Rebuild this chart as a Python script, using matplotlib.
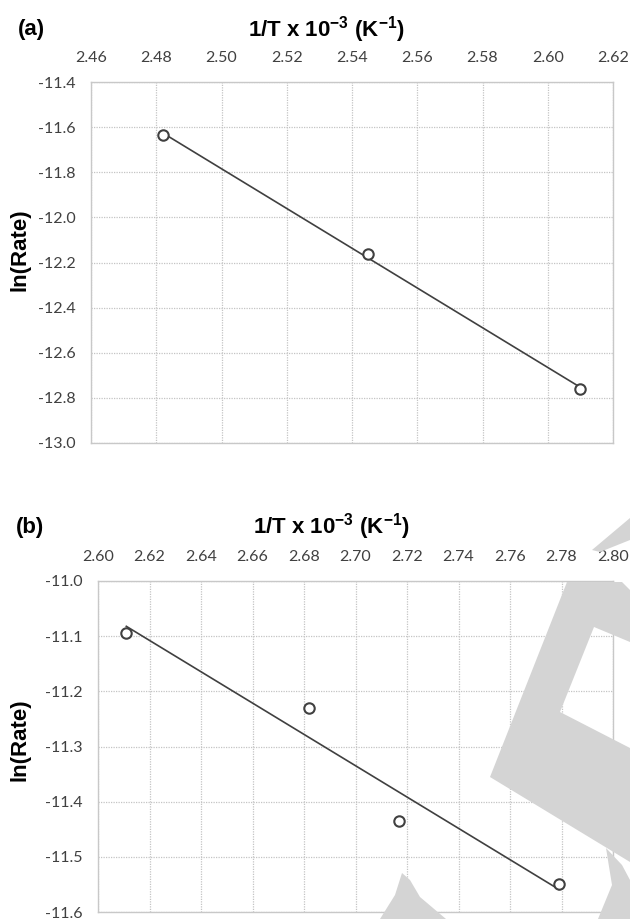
import numpy as np
import matplotlib
matplotlib.use("Agg")
import matplotlib.pyplot as plt
from matplotlib.ticker import FormatStrFormatter
from matplotlib.patches import Polygon

plt.rcParams['axes.unicode_minus'] = False
plt.rcParams['mathtext.fontset'] = 'custom'
plt.rcParams['mathtext.rm'] = 'Liberation Sans:bold'
plt.rcParams['mathtext.bf'] = 'Liberation Sans:bold'

# Panel (a) data
inv_T_a = [2.482, 2.545, 2.610]
ln_rate_a = [-11.635, -12.163, -12.762]
xticks_a = [2.46, 2.48, 2.50, 2.52, 2.54, 2.56, 2.58, 2.60, 2.62]
yticks_a = [-11.4, -11.6, -11.8, -12.0, -12.2, -12.4, -12.6, -12.8, -13.0]

# Panel (b) data
inv_T_b = [2.611, 2.682, 2.717, 2.779]
ln_rate_b = [-11.094, -11.230, -11.435, -11.549]
xticks_b = [2.60, 2.62, 2.64, 2.66, 2.68, 2.70, 2.72, 2.74, 2.76, 2.78, 2.80]
yticks_b = [-11.0, -11.1, -11.2, -11.3, -11.4, -11.5, -11.6]

xlabel = "1/T x 10$^{\\mathbf{-3}}$ (K$^{\\mathbf{-1}}$)"
ylabel = "ln(Rate)"

W, H = 630, 919
fig = plt.figure(figsize=(W / 100, H / 100), dpi=100)

tick_font = "Lato"
title_font = "Liberation Sans"
grid_col = "#c4c4c4"
dark = "#404040"


def px(x, y):
    return (x / W, 1 - y / H)


def make_panel(rect, xs, ys, xticks, yticks, panel_label, label_xy, title_xy, ylab_xy):
    ax = fig.add_axes(rect)
    ax.set_xlim(xticks[0], xticks[-1])
    ax.set_ylim(yticks[-1], yticks[0])
    ax.set_xticks(xticks)
    ax.set_yticks(yticks)
    ax.xaxis.set_major_formatter(FormatStrFormatter('%.2f'))
    ax.yaxis.set_major_formatter(FormatStrFormatter('%.1f'))
    ax.xaxis.tick_top()
    ax.tick_params(axis='x', length=0, pad=12, labelsize=11.5, labelcolor=dark)
    ax.tick_params(axis='y', length=0, pad=11, labelsize=11.5, labelcolor=dark)
    for lab in ax.get_xticklabels() + ax.get_yticklabels():
        lab.set_fontfamily(tick_font)
    ax.grid(True, color=grid_col, linestyle=(0, (1, 1)), linewidth=0.9)
    for s in ax.spines.values():
        s.set_color("#c8c8c8")
        s.set_linewidth(1.0)
    ax.set_axisbelow(True)
    # linear trendline
    coef = np.polyfit(xs, ys, 1)
    xl = np.array([min(xs), max(xs)])
    ax.plot(xl, np.polyval(coef, xl), color=dark, linewidth=1.2, zorder=3)
    ax.plot(xs, ys, linestyle='none', marker='o', markersize=7.5,
            markerfacecolor='white', markeredgecolor=dark, markeredgewidth=1.5, zorder=4)
    fig.text(*px(*title_xy), xlabel, ha='center', va='center',
             fontsize=16, fontweight='bold', family=title_font, color='black')
    fig.text(*px(*label_xy), panel_label, ha='left', va='center',
             fontsize=16, fontweight='bold', family=title_font, color='black')
    fig.text(*px(*ylab_xy), ylabel, ha='center', va='center', rotation=90,
             fontsize=16, fontweight='bold', family=title_font, color='black')
    return ax


make_panel([91 / W, 1 - 443 / H, 522 / W, 361 / H], inv_T_a, ln_rate_a,
           xticks_a, yticks_a, "(a)", (18, 30), (326, 30), (20, 250))
make_panel([98 / W, 1 - 912 / H, 515 / W, 331 / H], inv_T_b, ln_rate_b,
           xticks_b, yticks_b, "(b)", (16, 527), (331, 527), (20, 740))

# faint page watermark (decorative, not data)
wm_col = "#d4d4d4"
wm_shapes = [
    [(567, 582), (622, 582), (630, 590), (630, 642), (594, 627), (560, 712),
     (630, 748), (630, 862), (490, 777)],
    [(592, 550), (630, 518), (630, 540), (600, 552)],
    [(402, 873), (410, 880), (420, 897), (446, 919), (380, 919), (395, 895)],
    [(606, 848), (622, 865), (630, 880), (630, 919), (598, 919), (612, 885)],
]
for shp in wm_shapes:
    fig.add_artist(Polygon([px(x, y) for x, y in shp], closed=True,
                           transform=fig.transFigure, facecolor=wm_col,
                           edgecolor='none', zorder=10))

fig.savefig("out.png", dpi=100)
